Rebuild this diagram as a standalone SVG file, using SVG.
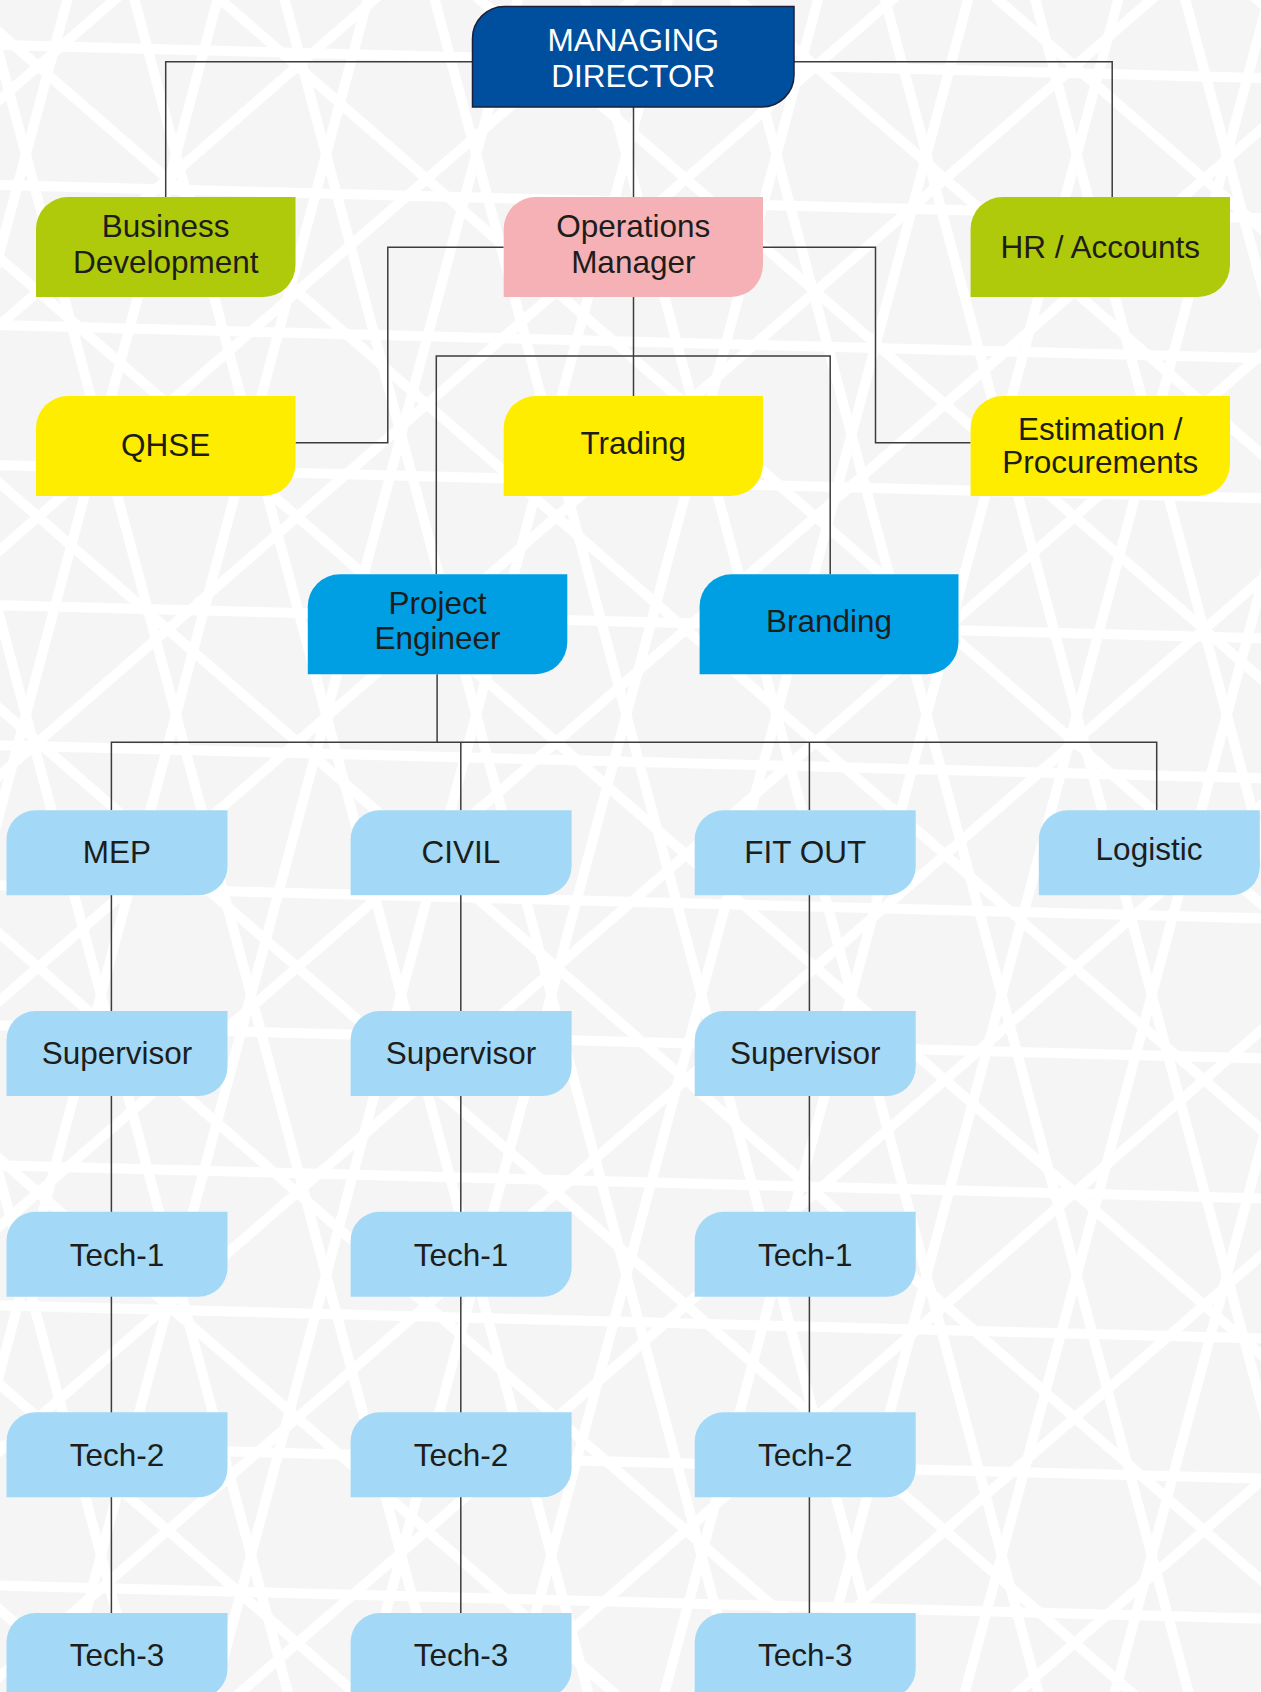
<svg xmlns="http://www.w3.org/2000/svg" width="1261" height="1692" viewBox="0 0 1261 1692">
<defs>
<style>
.t{font-family:"Liberation Sans",Arial,sans-serif;font-size:31.5px;fill:#1d1d1b;text-anchor:middle}
.w{fill:#ffffff}
.c{fill:none;stroke:#3c3c3b;stroke-width:1.5}
.md{fill:#004f9e;stroke:#1b1f3a;stroke-width:1.5}
.g{fill:#afca0b}
.p{fill:#f5b1b5}
.y{fill:#ffed00}
.b{fill:#009fe3}
.l{fill:#a3d9f6}
</style>
<pattern id="s1" patternUnits="userSpaceOnUse" width="2000" height="140" patternTransform="rotate(1.5) translate(0,40)"><rect x="0" y="0" width="2000" height="10" fill="#fff"/></pattern>
<pattern id="s2" patternUnits="userSpaceOnUse" width="2000" height="170" patternTransform="rotate(41) translate(0,20)"><rect x="0" y="0" width="2000" height="10" fill="#fff"/></pattern>
<pattern id="s3" patternUnits="userSpaceOnUse" width="2000" height="170" patternTransform="rotate(-41) translate(0,70)"><rect x="0" y="0" width="2000" height="10" fill="#fff"/></pattern>
<pattern id="s4" patternUnits="userSpaceOnUse" width="2000" height="145" patternTransform="rotate(75) translate(0,10)"><rect x="0" y="0" width="2000" height="10" fill="#fff"/></pattern>
<pattern id="s5" patternUnits="userSpaceOnUse" width="2000" height="145" patternTransform="rotate(-75) translate(0,60)"><rect x="0" y="0" width="2000" height="10" fill="#fff"/></pattern>
</defs>
<g id="background">
<rect x="0" y="0" width="1261" height="1692" fill="#f5f5f5"/>
<rect x="0" y="0" width="1261" height="1692" fill="url(#s1)"/>
<rect x="0" y="0" width="1261" height="1692" fill="url(#s2)"/>
<rect x="0" y="0" width="1261" height="1692" fill="url(#s3)"/>
<rect x="0" y="0" width="1261" height="1692" fill="url(#s4)"/>
<rect x="0" y="0" width="1261" height="1692" fill="url(#s5)"/>
</g>
<g id="connectors">
<path class="c" d="M472.5,61.7 H165.7 V197"/>
<path class="c" d="M794,61.7 H1112.2 V197"/>
<path class="c" d="M633.5,107 V197"/>
<path class="c" d="M633.5,297 V396"/>
<path class="c" d="M503.7,247.3 H387.8 V442.7 H295.5"/>
<path class="c" d="M763,247.3 H875.5 V442.7 H970.6"/>
<path class="c" d="M436.3,574.3 V356 H830.2 V574.3"/>
<path class="c" d="M437.1,674.3 V742.3"/>
<path class="c" d="M111.4,810.3 V742.3 H1156.7 V810.3"/>
<path class="c" d="M460.8,742.3 V810.3"/>
<path class="c" d="M809.4,742.3 V810.3"/>
<path class="c" d="M111.4,895 V1613"/>
<path class="c" d="M460.8,895 V1613"/>
<path class="c" d="M809.4,895 V1613"/>
</g>
<g id="n-md"><path class="md" d="M472.5,38.5 A32,32 0 0 1 504.5,6.5 H794 V75 A32,32 0 0 1 762,107 H472.5 Z"/><text class="t w" x="633.3" y="50.7">MANAGING</text><text class="t w" x="633.3" y="87.3">DIRECTOR</text></g>
<g id="n-bd"><path class="g" d="M36,229 A32,32 0 0 1 68,197 H295.5 V265 A32,32 0 0 1 263.5,297 H36 Z"/><text class="t" x="165.7" y="236.7">Business</text><text class="t" x="165.7" y="273.3">Development</text></g>
<g id="n-ops"><path class="p" d="M503.7,229 A32,32 0 0 1 535.7,197 H763 V265 A32,32 0 0 1 731,297 H503.7 Z"/><text class="t" x="633.3" y="236.7">Operations</text><text class="t" x="633.3" y="273.3">Manager</text></g>
<g id="n-hr"><path class="g" d="M970.6,229 A32,32 0 0 1 1002.6,197 H1230 V265 A32,32 0 0 1 1198,297 H970.6 Z"/><text class="t" x="1100.3" y="258.3">HR / Accounts</text></g>
<g id="n-qhse"><path class="y" d="M36,428 A32,32 0 0 1 68,396 H295.5 V464 A32,32 0 0 1 263.5,496 H36 Z"/><text class="t" x="165.7" y="456">QHSE</text></g>
<g id="n-trading"><path class="y" d="M503.7,428 A32,32 0 0 1 535.7,396 H763 V464 A32,32 0 0 1 731,496 H503.7 Z"/><text class="t" x="633.3" y="453.5">Trading</text></g>
<g id="n-est"><path class="y" d="M970.6,428 A32,32 0 0 1 1002.6,396 H1230 V464 A32,32 0 0 1 1198,496 H970.6 Z"/><text class="t" x="1100.3" y="440">Estimation /</text><text class="t" x="1100.3" y="473.3">Procurements</text></g>
<g id="n-pe"><path class="b" d="M307.8,606.3 A32,32 0 0 1 339.8,574.3 H567.3 V642.3 A32,32 0 0 1 535.3,674.3 H307.8 Z"/><text class="t" x="437.5" y="614.3">Project</text><text class="t" x="437.5" y="649.3">Engineer</text></g>
<g id="n-branding"><path class="b" d="M699.6,606.3 A32,32 0 0 1 731.6,574.3 H958.5 V642.3 A32,32 0 0 1 926.5,674.3 H699.6 Z"/><text class="t" x="829" y="631.7">Branding</text></g>
<g id="n-mep"><path class="l" d="M6.5,839.3 A29,29 0 0 1 35.5,810.3 H227.5 V866.3 A29,29 0 0 1 198.5,895.3 H6.5 Z"/><text class="t" x="117" y="863.3">MEP</text></g>
<g id="n-civil"><path class="l" d="M350.6,839.3 A29,29 0 0 1 379.6,810.3 H571.6 V866.3 A29,29 0 0 1 542.6,895.3 H350.6 Z"/><text class="t" x="461" y="863.3">CIVIL</text></g>
<g id="n-fitout"><path class="l" d="M694.7,839.3 A29,29 0 0 1 723.7,810.3 H915.7 V866.3 A29,29 0 0 1 886.7,895.3 H694.7 Z"/><text class="t" x="805.2" y="863.3">FIT OUT</text></g>
<g id="n-logistic"><path class="l" d="M1038.8,839.3 A29,29 0 0 1 1067.8,810.3 H1259.8 V866.3 A29,29 0 0 1 1230.8,895.3 H1038.8 Z"/><text class="t" x="1149" y="860">Logistic</text></g>
<g id="n-sup1"><path class="l" d="M6.5,1040 A29,29 0 0 1 35.5,1011 H227.5 V1067 A29,29 0 0 1 198.5,1096 H6.5 Z"/><text class="t" x="117" y="1063.5">Supervisor</text></g>
<g id="n-sup2"><path class="l" d="M350.6,1040 A29,29 0 0 1 379.6,1011 H571.6 V1067 A29,29 0 0 1 542.6,1096 H350.6 Z"/><text class="t" x="461" y="1063.5">Supervisor</text></g>
<g id="n-sup3"><path class="l" d="M694.7,1040 A29,29 0 0 1 723.7,1011 H915.7 V1067 A29,29 0 0 1 886.7,1096 H694.7 Z"/><text class="t" x="805.2" y="1063.5">Supervisor</text></g>
<g id="n-t11"><path class="l" d="M6.5,1240.7 A29,29 0 0 1 35.5,1211.7 H227.5 V1267.7 A29,29 0 0 1 198.5,1296.7 H6.5 Z"/><text class="t" x="117" y="1266">Tech-1</text></g>
<g id="n-t21"><path class="l" d="M350.6,1240.7 A29,29 0 0 1 379.6,1211.7 H571.6 V1267.7 A29,29 0 0 1 542.6,1296.7 H350.6 Z"/><text class="t" x="461" y="1266">Tech-1</text></g>
<g id="n-t31"><path class="l" d="M694.7,1240.7 A29,29 0 0 1 723.7,1211.7 H915.7 V1267.7 A29,29 0 0 1 886.7,1296.7 H694.7 Z"/><text class="t" x="805.2" y="1266">Tech-1</text></g>
<g id="n-t12"><path class="l" d="M6.5,1441.3 A29,29 0 0 1 35.5,1412.3 H227.5 V1468.3 A29,29 0 0 1 198.5,1497.3 H6.5 Z"/><text class="t" x="117" y="1465.7">Tech-2</text></g>
<g id="n-t22"><path class="l" d="M350.6,1441.3 A29,29 0 0 1 379.6,1412.3 H571.6 V1468.3 A29,29 0 0 1 542.6,1497.3 H350.6 Z"/><text class="t" x="461" y="1465.7">Tech-2</text></g>
<g id="n-t32"><path class="l" d="M694.7,1441.3 A29,29 0 0 1 723.7,1412.3 H915.7 V1468.3 A29,29 0 0 1 886.7,1497.3 H694.7 Z"/><text class="t" x="805.2" y="1465.7">Tech-2</text></g>
<g id="n-t13"><path class="l" d="M6.5,1642 A29,29 0 0 1 35.5,1613 H227.5 V1669 A29,29 0 0 1 198.5,1698 H6.5 Z"/><text class="t" x="117" y="1666">Tech-3</text></g>
<g id="n-t23"><path class="l" d="M350.6,1642 A29,29 0 0 1 379.6,1613 H571.6 V1669 A29,29 0 0 1 542.6,1698 H350.6 Z"/><text class="t" x="461" y="1666">Tech-3</text></g>
<g id="n-t33"><path class="l" d="M694.7,1642 A29,29 0 0 1 723.7,1613 H915.7 V1669 A29,29 0 0 1 886.7,1698 H694.7 Z"/><text class="t" x="805.2" y="1666">Tech-3</text></g>
</svg>
